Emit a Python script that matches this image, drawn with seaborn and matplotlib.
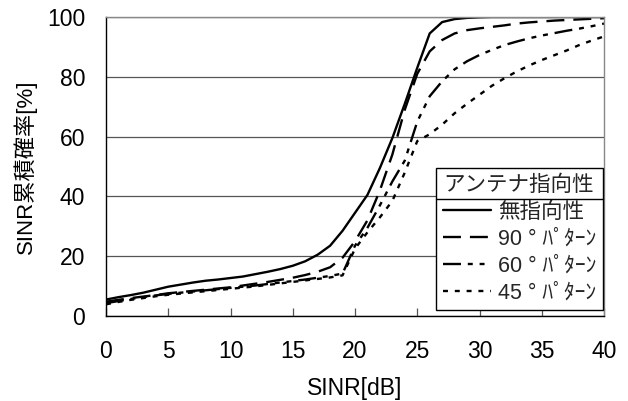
import numpy as np
import pandas as pd
import matplotlib
matplotlib.use("Agg")
import matplotlib.pyplot as plt
from matplotlib.lines import Line2D
import seaborn as sns

# ---- data ----
sinr_db = list(range(0, 41))
series_names = ["無指向性", "90 ° ﾊﾟﾀｰﾝ", "60 ° ﾊﾟﾀｰﾝ", "45 ° ﾊﾟﾀｰﾝ"]
omni = [5.5, 6.3, 7.0, 7.8, 8.8, 9.8, 10.5, 11.2, 11.8, 12.2, 12.7, 13.2, 14.0, 14.8, 15.7,
        16.8, 18.3, 20.5, 23.5, 28.5, 34.5, 40.5, 49.5, 59.5, 71.0, 83.0, 94.5, 98.3, 99.3,
        99.7, 99.9, 100, 100, 100, 100, 100, 100, 100, 100, 100, 100]
p90 = [4.8, 5.4, 6.0, 6.5, 7.0, 7.6, 8.0, 8.4, 8.8, 9.2, 9.6, 10.2, 10.8, 11.4, 12.1,
       12.8, 13.7, 14.8, 16.3, 19.5, 25.0, 32.0, 42.0, 54.0, 69.0, 81.0, 88.5, 92.3, 94.5,
       95.6, 96.2, 96.7, 97.2, 97.8, 98.2, 98.5, 98.8, 99.0, 99.2, 99.4, 99.6]
p60 = [4.3, 5.0, 5.7, 6.3, 6.9, 7.4, 7.8, 8.2, 8.6, 9.0, 9.4, 9.8, 10.2, 10.7, 11.2,
       11.7, 12.2, 12.8, 13.4, 14.2, 23.5, 29.5, 37.0, 45.0, 52.0, 65.0, 73.5, 78.5, 82.5,
       85.2, 87.3, 89.0, 90.6, 91.8, 92.9, 93.8, 94.6, 95.4, 96.1, 96.9, 97.8]
p45 = [3.9, 4.7, 5.4, 6.0, 6.6, 7.1, 7.5, 7.9, 8.3, 8.7, 9.1, 9.5, 9.9, 10.4, 10.9,
       11.4, 11.9, 12.4, 12.9, 13.6, 22.5, 28.0, 33.0, 38.5, 48.0, 58.5, 60.8, 64.0, 67.8,
       71.0, 74.0, 77.0, 79.5, 81.8, 83.8, 85.6, 87.2, 88.8, 90.6, 92.1, 93.5]
x_ticks = [0, 5, 10, 15, 20, 25, 30, 35, 40]
y_ticks = [0, 20, 40, 60, 80, 100]
legend_title = "アンテナ指向性"
x_label = "SINR[dB]"
y_label = "SINR累積確率[%]"

df = pd.DataFrame({
    "SINR": sinr_db * 4,
    "CDF": omni + p90 + p60 + p45,
    "pattern": np.repeat(series_names, len(sinr_db)),
})

sns.set_theme(style="white")
plt.rcParams["font.family"] = ["Liberation Sans", "Noto Sans CJK JP"]

fig = plt.figure(figsize=(6.28, 4.01), dpi=100)
W, H = 628, 401
ax = fig.add_axes([106 / W, 1 - 316 / H, (604 - 106) / W, (316 - 17) / H])

lw = 1.7
dash_map = {
    series_names[0]: "",
    series_names[1]: (7.6, 3.8),
    series_names[2]: (7.6, 2.9, 2.1, 2.9, 2.1, 2.9),
    series_names[3]: (2.1, 2.9),
}
sns.lineplot(data=df, x="SINR", y="CDF", hue="pattern", style="pattern",
             hue_order=series_names, style_order=series_names,
             palette=["black"] * 4, dashes=dash_map, linewidth=lw,
             estimator=None, legend=False, ax=ax)

ax.set_xlim(0, 40)
ax.set_ylim(0, 100)
ax.set_xticks(x_ticks)
ax.set_yticks(y_ticks)
ax.yaxis.grid(True, color="#555555", linewidth=0.9)
ax.xaxis.grid(False)
ax.set_axisbelow(True)

for s in ["left", "bottom"]:
    ax.spines[s].set_color("black")
    ax.spines[s].set_linewidth(1.0)
for s in ["top", "right"]:
    ax.spines[s].set_color("#888888")
    ax.spines[s].set_linewidth(1.0)

ax.tick_params(axis="x", direction="in", length=5.5, width=0.9, color="#555555",
               pad=17, labelsize=16.5, labelcolor="black", bottom=True)
ax.tick_params(axis="y", direction="in", length=0, pad=15, labelsize=16.5,
               labelcolor="black", left=True)

ax.set_xlabel(x_label, fontsize=16.5, color="black")
ax.set_ylabel(y_label, fontsize=16, color="black", va="center")
ax.xaxis.set_label_coords(0.5, (316 - 377) / 299)
ax.yaxis.set_label_coords((25 - 106) / 498, 0.5)

handles = ax.get_lines()[:4]
leg = ax.legend(handles, series_names, title=legend_title, loc="lower right",
                bbox_to_anchor=(0.998, 0.02), borderaxespad=0, fontsize=15.5,
                title_fontsize=15.5, frameon=True, fancybox=False, framealpha=1,
                handlelength=2.25, handletextpad=0.3, labelspacing=0.27,
                borderpad=0.32, alignment="left")
leg.get_frame().set_edgecolor("black")
leg.get_frame().set_linewidth(1.0)

fig.canvas.draw()
renderer = fig.canvas.get_renderer()
fb = leg.get_frame().get_window_extent(renderer)
tb = leg.get_title().get_window_extent(renderer)
eb = leg.get_texts()[0].get_window_extent(renderer)
inv = fig.transFigure.inverted()
yline = (tb.y0 + eb.y1) / 2
p0 = inv.transform((fb.x0, yline))
p1 = inv.transform((fb.x1, yline))
fig.add_artist(Line2D([p0[0], p1[0]], [p0[1], p1[1]], color="black", linewidth=1.0,
                      transform=fig.transFigure))

fig.savefig("out.png", dpi=100)
